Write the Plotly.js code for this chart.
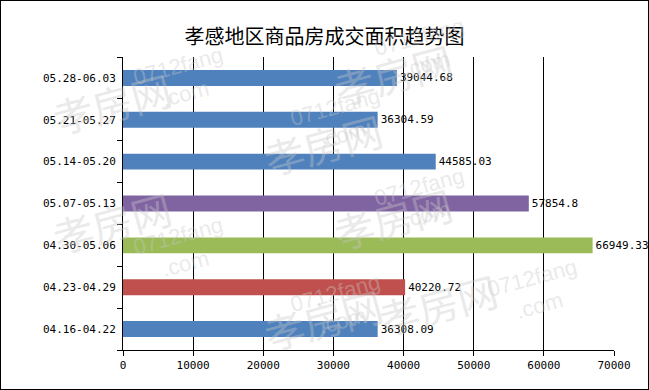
<!DOCTYPE html>
<html><head><meta charset="utf-8">
<script src="https://cdn.plot.ly/plotly-3.0.1.min.js"></script>
<style>html,body{margin:0;padding:0;background:#fff;}#wrap{position:relative;width:649px;height:390px;}#frame{position:absolute;left:0;top:0;width:649px;height:390px;box-sizing:border-box;border:1px solid #000;pointer-events:none;}</style>
</head><body><div id="wrap"><div id="chart" style="width:649px;height:390px;"></div><div id="frame"></div></div>
<script>
const categories = ["04.16-04.22","04.23-04.29","04.30-05.06","05.07-05.13","05.14-05.20","05.21-05.27","05.28-06.03"];
const areaValues = [36308.09, 40220.72, 66949.33, 57854.8, 44585.03, 36304.59, 39044.68];
const valueLabels = ["36308.09","40220.72","66949.33","57854.8","44585.03","36304.59","39044.68"];
const barColors = ["#4F81BD","#C0504D","#9BBB59","#8064A2","#4F81BD","#4F81BD","#4F81BD"];
const xTicks = [0,10000,20000,30000,40000,50000,60000,70000];
const titleText = "孝感地区商品房成交面积趋势图";

const wmColor = "rgba(200,200,200,0.4)";
const wm = [];
function addWM(x,y){
  wm.push({xref:"paper",yref:"paper",x:x,y:y,text:"孝房网",showarrow:false,textangle:-15,font:{family:"Noto Sans CJK SC",size:40,color:wmColor}});
  wm.push({xref:"paper",yref:"paper",x:x+0.17,y:y+0.06,text:"0712fang<br>.com",showarrow:false,textangle:-15,font:{family:"Liberation Sans",size:22,color:wmColor}});
}
addWM(-0.16,1.0); addWM(0.27,0.86); addWM(0.55,0.45); addWM(-0.16,0.28); addWM(0.27,-0.05); addWM(0.78,0.0); addWM(0.55,1.1);

const trace = {
  type:"bar", orientation:"h", y:categories, x:areaValues,
  marker:{color:barColors}, text:valueLabels, textposition:"outside",
  textfont:{family:"DejaVu Sans Mono",size:11,color:"#000"}, cliponaxis:false,
  hoverinfo:"none"
};
const layout = {
  width:649, height:390, margin:{l:123,r:35,t:57,b:40},
  paper_bgcolor:"#fff", plot_bgcolor:"#fff", showlegend:false, bargap:0.62,
  title:{text:titleText, x:0.5, xanchor:"center", y:0.905, yanchor:"middle", font:{family:"Noto Sans CJK SC", size:20, color:"#000"}},
  xaxis:{range:[0,70000], tickvals:xTicks, ticktext:xTicks.map(String), showgrid:true, gridcolor:"#000", gridwidth:1,
    showline:true, linecolor:"#000", linewidth:1, ticks:"outside", ticklen:5, tickcolor:"#000", zeroline:false,
    tickfont:{family:"DejaVu Sans Mono", size:11, color:"#000"}},
  yaxis:{type:"category", categoryorder:"array", categoryarray:categories, showline:true, linecolor:"#000", linewidth:1,
    ticks:"outside", ticklen:5, tickcolor:"#000", tickson:"boundaries", showgrid:false, ticklabelstandoff:4,
    tickfont:{family:"DejaVu Sans Mono", size:11, color:"#000"}},
  annotations: wm
};
Plotly.newPlot("chart",[trace],layout,{staticPlot:true});
</script></body></html>
